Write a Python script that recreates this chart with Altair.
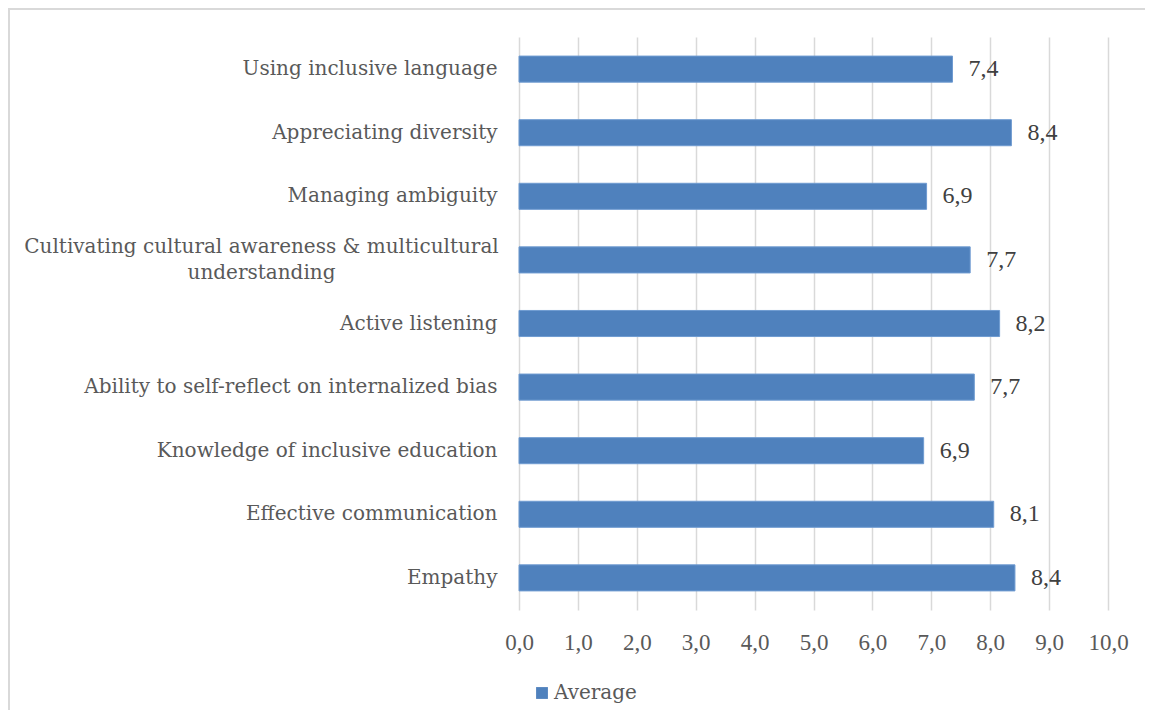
import altair as alt
import pandas as pd

categories = [
    "Using inclusive language",
    "Appreciating diversity",
    "Managing ambiguity",
    "Cultivating cultural awareness & multicultural|understanding",
    "Active listening",
    "Ability to self-reflect on internalized bias",
    "Knowledge of inclusive education",
    "Effective communication",
    "Empathy",
]
values = [7.36, 8.36, 6.92, 7.66, 8.16, 7.73, 6.87, 8.06, 8.42]
series = ["Average"] * len(categories)
x_ticks = [0, 1, 2, 3, 4, 5, 6, 7, 8, 9, 10]

df = pd.DataFrame({"skill": categories, "value": values, "series": series})

FONT = "DejaVu Serif"
NUMFONT = "Liberation Serif"
TEXT = "#595959"
MULTI = "indexof(datum.value, '|') >= 0"

y = alt.Y(
    "skill:N",
    sort=categories,
    scale=alt.Scale(paddingInner=0.59, paddingOuter=0.3),
    axis=alt.Axis(
        title=None, domain=False, ticks=False,
        labelPadding={"condition": {"test": MULTI, "value": 258}, "value": 22},
        labelAlign={"condition": {"test": MULTI, "value": "center"}, "value": "right"},
        labelBaseline={"condition": {"test": MULTI, "value": "line-bottom"}, "value": "middle"},
        labelFont=FONT, labelFontSize=20, labelColor=TEXT,
        labelLimit=600, labelLineHeight=26,
        labelExpr="split(datum.label, '|')",
    ),
)

bars = alt.Chart(df).mark_bar(color="#4F81BD", stroke="#6F9BD1", strokeWidth=1).encode(
    x=alt.X(
        "value:Q",
        scale=alt.Scale(domain=[0, 10], nice=False),
        axis=alt.Axis(
            title=None, values=x_ticks, domain=False, ticks=False,
            grid=True, gridColor="#D9D9D9", gridWidth=1.5,
            labelFont=NUMFONT, labelFontSize=23, labelColor=TEXT, labelPadding=21,
            labelFlush=False, labelOverlap=False,
            labelExpr="replace(format(datum.value, '.1f'), '.', ',')",
        ),
    ),
    y=y,
    color=alt.Color(
        "series:N",
        scale=alt.Scale(domain=["Average"], range=["#4F81BD"]),
        legend=alt.Legend(
            title=None, orient="none", legendX=13, legendY=646,
            symbolType="square", symbolSize=140, symbolStrokeWidth=0,
            labelFont=FONT, labelFontSize=20, labelColor=TEXT,
            labelOffset=2, padding=0,
        ),
    ),
)

labels = alt.Chart(df).transform_calculate(
    lbl="replace(format(datum.value, '.1f'), '.', ',')"
).mark_text(
    align="left", baseline="middle", dx=16, font=NUMFONT, fontSize=24, color="#404040"
).encode(x="value:Q", y=alt.Y("skill:N", sort=categories), text="lbl:N")

border = alt.Chart(df).mark_rect(
    fill=None, stroke="#D9D9D9", strokeWidth=2
).encode(
    x=alt.value(-510), x2=alt.value(700), y=alt.value(-28), y2=alt.value(720)
)

chart = alt.layer(border, bars, labels).properties(
    width=589, height=573,
    autosize=alt.AutoSizeParams(type="none"),
    padding={"left": 511, "top": 29, "right": 37, "bottom": 100},
    background="white",
).configure_view(stroke=None)

chart.save("out.html", embed_options={"renderer": "svg", "actions": False})
